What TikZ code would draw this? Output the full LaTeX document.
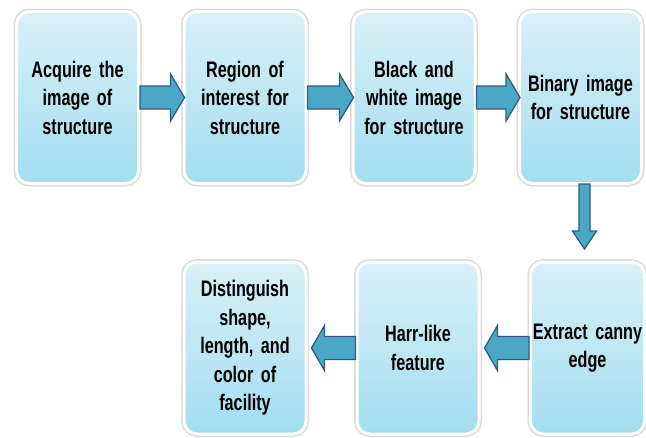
\documentclass[tikz,border=0pt]{standalone}
\usepackage{fontspec}
\setmainfont{Liberation Sans}[FakeStretch=0.72, WordSpace=0.75]
\usetikzlibrary{calc}

\definecolor{boxtop}{HTML}{DAF0F7}
\definecolor{boxbot}{HTML}{A2DEF0}
\definecolor{arrfill}{HTML}{4BA8C4}
\definecolor{arrline}{HTML}{2F5C88}

\tikzset{
  stage/.style={
    rectangle, rounded corners=13pt,
    minimum width=122pt, minimum height=172pt,
    top color=boxtop, bottom color=boxbot,
    draw=white, line width=3pt,
    align=center, text width=118pt,
    font=\fontsize{22.5}{28.5}\selectfont\bfseries,
    inner sep=0pt,
    preaction={draw=black!14, line width=6pt}
  },
  barrow/.style={fill=arrfill, draw=arrline, line width=1.3pt, line join=miter}
}

% block arrow: #1 = shaft half width, #2 = head half width,
% #3 = head length, #4 = tail point, #5 = tip point
\newcommand\blockarrow[5]{%
  \path (#4) coordinate (ba-s) (#5) coordinate (ba-t);
  \path ($(ba-t)!#3pt!(ba-s)$) coordinate (ba-h);
  \draw[barrow]
    ($(ba-s)!#1pt!90:(ba-t)$) -- ($(ba-h)!#1pt!90:(ba-t)$) --
    ($(ba-h)!#2pt!90:(ba-t)$) -- (ba-t) --
    ($(ba-h)!#2pt!-90:(ba-t)$) -- ($(ba-h)!#1pt!-90:(ba-t)$) --
    ($(ba-s)!#1pt!-90:(ba-t)$) -- cycle;}

\begin{document}
\begin{tikzpicture}[x=1pt, y=-1pt]
\useasboundingbox[fill=white] (0,0) rectangle (646,437);

% top row
\node[stage] (acq) at (77.5,97.5) {Acquire the\\image of\\structure};
\node[stage] (roi) at (245,97.5) {Region of\\interest for\\structure};
\node[stage] (bw)  at (414,97.5) {Black and\\white image\\for structure};
\node[stage] (bin) at (580.5,97.5) {Binary image\\for structure};

% bottom row
\node[stage] (dist) at (245,348) {Distinguish\\shape,\\length, and\\color of\\facility};
\node[stage] (harr) at (418,348) {Harr-like\\feature};
\node[stage, minimum width=112pt, text width=114pt] (ext) at (587.5,348) {Extract canny\\edge};

% flow arrows
\blockarrow{11.5}{23.5}{14}{acq.east}{$(roi.west)+(2,0)$}
\blockarrow{11.5}{23.5}{14}{roi.east}{$(bw.west)+(2,0)$}
\blockarrow{11.5}{23.5}{14}{bw.east}{$(bin.west)+(2,0)$}
\coordinate (down-s) at ($(bin.south)+(4,-1)$);
\coordinate (down-t) at ($(bin.south)+(4,64)$);
\blockarrow{5.5}{12}{18}{down-s}{down-t}
\blockarrow{11.5}{22.5}{13}{ext.west}{$(harr.east)+(4,0)$}
\blockarrow{11.5}{22.5}{13}{harr.west}{$(dist.east)+(4,0)$}
\end{tikzpicture}
\end{document}
